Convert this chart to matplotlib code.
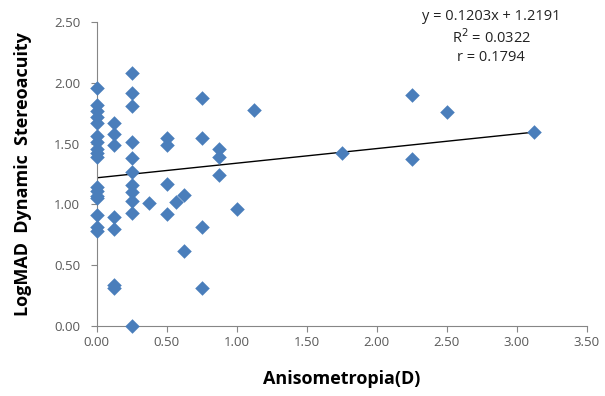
import matplotlib.pyplot as plt

# anisometropia (D) and logMAD dynamic stereoacuity, grouped by x value
x_groups = [0.0, 0.125, 0.25, 0.375, 0.5, 0.5625, 0.625, 0.75, 0.875,
            1.0, 1.125, 1.75, 2.25, 2.5, 3.125]
y_groups = [
    [1.96, 1.82, 1.77, 1.72, 1.67, 1.56, 1.51, 1.46, 1.42, 1.39,
     1.14, 1.11, 1.07, 1.05, 0.91, 0.81, 0.78],
    [1.67, 1.58, 1.49, 0.90, 0.80, 0.34, 0.31],
    [2.08, 1.92, 1.81, 1.51, 1.38, 1.27, 1.16, 1.10, 1.03, 0.93, 0.00],
    [1.01],
    [1.55, 1.49, 1.17, 0.92],
    [1.02],
    [1.08, 0.62],
    [1.88, 1.55, 0.81, 0.31],
    [1.46, 1.39, 1.24],
    [0.96],
    [1.78],
    [1.42],
    [1.90, 1.37],
    [1.76],
    [1.60],
]

# linear trendline reported on the chart
slope = 0.1203
intercept = 1.2191
r_squared = 0.0322
r_value = 0.1794

xs = [x for x, ys in zip(x_groups, y_groups) for _ in ys]
ys = [y for group in y_groups for y in group]

plt.rcParams["font.family"] = ["Open Sans", "DejaVu Sans"]

fig = plt.figure(figsize=(6.05, 3.96), dpi=100)
ax = fig.add_axes([0.160, 0.177, 0.810, 0.767])

ax.scatter(xs, ys, marker="D", s=55, color="#4A7EBB", linewidths=0,
           zorder=5, clip_on=False)

line_x = [0.0, max(xs)]
line_y = [slope * v + intercept for v in line_x]
ax.plot(line_x, line_y, color="black", linewidth=1.0, zorder=2)

ax.set_xlim(0, 3.5)
ax.set_ylim(0, 2.5)
ax.set_xticks([i * 0.5 for i in range(8)])
ax.set_yticks([i * 0.5 for i in range(6)])
ax.xaxis.set_major_formatter(plt.FormatStrFormatter("%.2f"))
ax.yaxis.set_major_formatter(plt.FormatStrFormatter("%.2f"))
ax.tick_params(direction="out", length=4, color="#868686",
               labelcolor="#595959", labelsize=9.5)
ax.tick_params(axis="y", pad=8)

for side in ["top", "right"]:
    ax.spines[side].set_visible(False)
for side in ["left", "bottom"]:
    ax.spines[side].set_color("#868686")

ax.set_xlabel("Anisometropia(D)", fontsize=13, fontweight="bold", labelpad=15)
ax.set_ylabel("LogMAD  Dynamic  Stereoacuity", fontsize=13, fontweight="bold",
              labelpad=16)

eq = (f"y = {slope:.4f}x + {intercept:.4f}\n"
      f"R$^2$ = {r_squared:.4f}\n"
      f"r = {r_value:.4f}")
fig.text(0.812, 0.978, eq, ha="center", va="top", fontsize=10.5,
         color="#222222", linespacing=1.3)

fig.savefig("out.png", dpi=100)
